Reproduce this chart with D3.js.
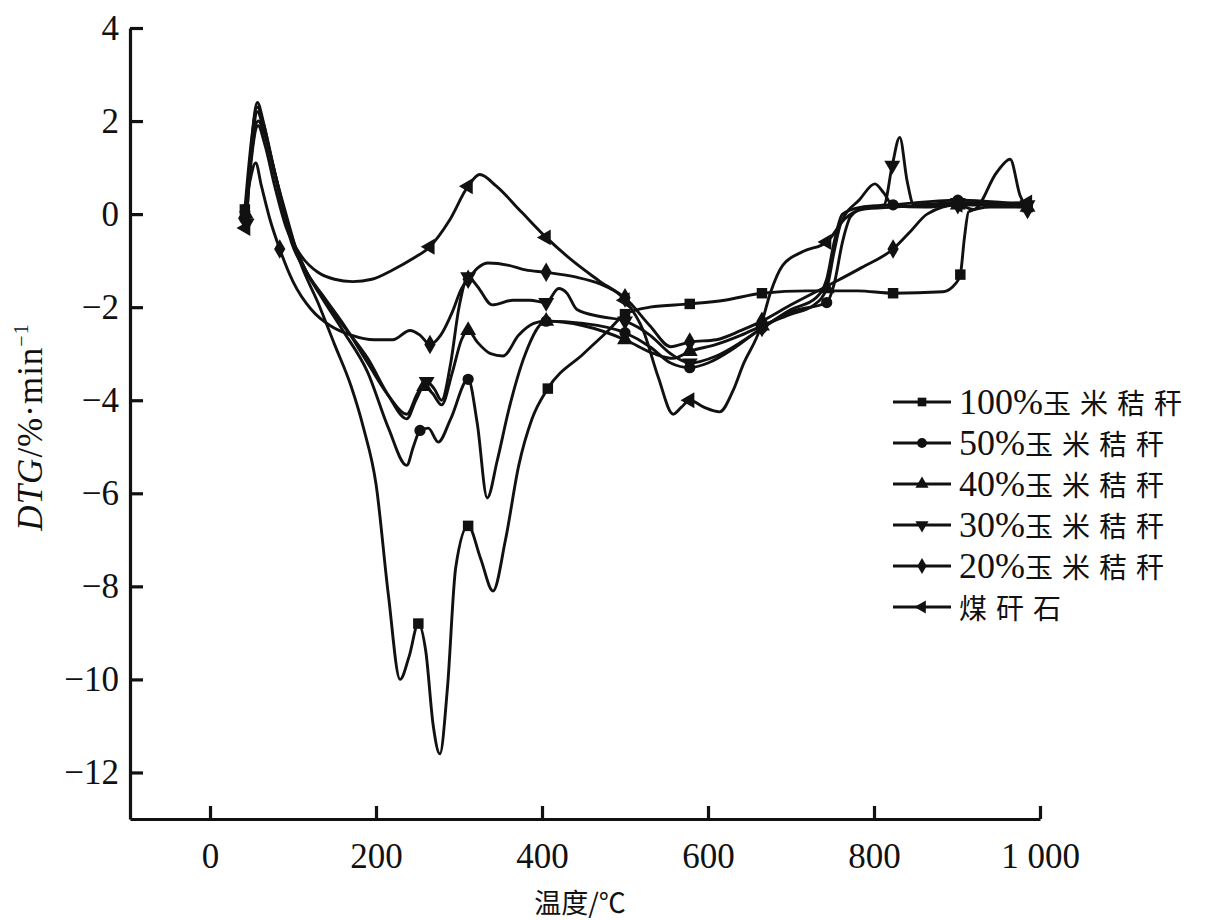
<!DOCTYPE html>
<html>
<head>
<meta charset="utf-8">
<script src="https://cdn.jsdelivr.net/npm/d3@7"></script>
<style>
  body { margin: 0; background: #fff; }
  svg { display: block; }
</style>
</head>
<body>
<div id="chart"></div>
<script>
// DTG curves, [temperature °C, DTG %/min]
const s100 = [[42,0.1],[50,1.6],[57,2.4],[64,2.0],[75,1.1],[90,0.1],[108,-1.0],[130,-1.9],[150,-2.8],[170,-3.7],[185,-4.6],[200,-5.8],[215,-8.2],[229,-10.0],[240,-9.5],[251,-8.8],[260,-9.4],[269,-11.0],[277,-11.6],[286,-10.2],[296,-7.6],[311,-6.7],[326,-7.4],[341,-8.1],[356,-7.0],[372,-5.4],[388,-4.4],[407,-3.75],[450,-3.0],[480,-2.5],[500,-2.15],[530,-2.0],[578,-1.93],[620,-1.85],[665,-1.7],[720,-1.65],[780,-1.65],[823,-1.7],[883,-1.67],[898,-1.5],[904,-1.3],[909,-0.5],[914,0.05],[940,0.15],[985,0.15]];
const s50 = [[42,-0.1],[50,1.4],[57,2.2],[65,1.8],[78,0.9],[95,-0.3],[115,-1.2],[135,-1.8],[160,-2.5],[190,-3.4],[215,-4.6],[237,-5.4],[245,-5.0],[253,-4.65],[263,-4.6],[275,-4.9],[290,-4.4],[311,-3.55],[322,-4.5],[334,-6.1],[346,-5.3],[360,-4.2],[380,-3.0],[405,-2.3],[450,-2.35],[500,-2.55],[530,-2.85],[555,-3.2],[578,-3.3],[600,-3.2],[630,-2.9],[665,-2.45],[700,-2.1],[743,-1.9],[752,-1.5],[762,-0.6],[772,-0.05],[790,0.15],[823,0.2],[901,0.3],[985,0.2]];
const s40 = [[43,0.0],[50,1.3],[58,2.0],[66,1.7],[80,0.7],[98,-0.6],[118,-1.3],[140,-1.9],[165,-2.5],[190,-3.1],[215,-3.9],[237,-4.4],[248,-4.0],[258,-3.7],[268,-3.85],[279,-4.1],[292,-3.4],[303,-2.7],[311,-2.5],[322,-2.75],[338,-3.0],[353,-3.05],[372,-2.6],[390,-2.35],[405,-2.3],[450,-2.4],[500,-2.7],[535,-3.0],[558,-3.1],[578,-2.95],[610,-2.8],[640,-2.6],[665,-2.4],[700,-2.15],[728,-1.95],[743,-1.6],[752,-0.8],[760,-0.2],[783,0.32],[801,0.65],[812,0.45],[823,0.18],[860,0.15],[901,0.2],[985,0.15]];
const s30 = [[44,-0.2],[50,1.5],[57,2.3],[65,1.9],[78,0.9],[96,-0.4],[115,-1.2],[138,-1.8],[162,-2.4],[190,-3.2],[215,-3.9],[237,-4.3],[250,-3.85],[261,-3.6],[270,-3.75],[279,-4.0],[290,-3.2],[300,-2.0],[311,-1.35],[322,-1.55],[340,-1.95],[365,-1.85],[385,-1.85],[405,-1.9],[420,-1.6],[430,-1.7],[442,-2.05],[470,-2.2],[500,-2.3],[530,-2.6],[555,-3.0],[578,-3.2],[610,-3.05],[640,-2.75],[665,-2.45],[700,-2.05],[730,-1.8],[743,-1.4],[752,-0.6],[762,0.0],[785,0.15],[812,0.2],[822,1.05],[831,1.65],[840,0.7],[848,0.2],[901,0.25],[985,0.2]];
const s20 = [[42,0.05],[48,0.7],[55,1.1],[62,0.6],[72,-0.1],[84,-0.75],[100,-1.45],[122,-2.05],[145,-2.4],[170,-2.6],[198,-2.7],[220,-2.7],[241,-2.5],[253,-2.6],[265,-2.8],[278,-2.6],[292,-2.1],[303,-1.6],[311,-1.4],[323,-1.15],[335,-1.05],[360,-1.1],[380,-1.2],[405,-1.25],[440,-1.35],[470,-1.5],[500,-1.8],[530,-2.4],[555,-2.85],[578,-2.75],[610,-2.7],[640,-2.5],[665,-2.3],[700,-1.95],[743,-1.55],[785,-1.15],[823,-0.75],[845,-0.35],[864,0.0],[901,0.2],[920,0.1],[948,0.9],[964,1.18],[976,0.4],[985,0.1]];
const sCoal = [[43,-0.3],[50,1.2],[58,1.9],[66,1.5],[78,0.6],[92,-0.3],[110,-0.9],[130,-1.25],[150,-1.4],[172,-1.45],[195,-1.4],[220,-1.2],[245,-0.95],[265,-0.7],[288,-0.15],[311,0.6],[325,0.85],[345,0.6],[375,0.05],[405,-0.5],[440,-1.05],[470,-1.45],[500,-1.85],[522,-2.5],[540,-3.5],[558,-4.3],[568,-4.15],[578,-4.0],[595,-4.15],[614,-4.25],[630,-3.8],[642,-3.25],[663,-2.45],[675,-1.7],[690,-1.1],[715,-0.8],[743,-0.6],[765,-0.1],[785,0.1],[823,0.15],[901,0.2],[985,0.25]];

// temperatures where each curve carries a marker
const mk100 = [42, 251, 311, 407, 500, 578, 665, 823, 904, 985];
const mk50 = [42, 253, 311, 405, 500, 578, 665, 743, 823, 901, 985];
const mk40 = [43, 258, 311, 405, 500, 578, 665, 743, 901, 985];
const mk30 = [44, 261, 311, 405, 500, 578, 665, 822, 901, 985];
const mk20 = [42, 84, 265, 311, 405, 500, 578, 665, 823, 901, 985];
const mkCoal = [43, 265, 311, 405, 500, 578, 743, 901, 985];

const legendNums = ["100%", "50%", "40%", "30%", "20%", ""];
const legendNames = ["玉米秸秆", "玉米秸秆", "玉米秸秆", "玉米秸秆", "玉米秸秆", "煤矸石"];

const xTicks = [0, 200, 400, 600, 800, 1000];
const yTicks = [-12, -10, -8, -6, -4, -2, 0, 2, 4];

const series = [
  { data: s100, marks: mk100, sym: d3.symbolSquare, rot: 0, size: 110 },
  { data: s50, marks: mk50, sym: d3.symbolCircle, rot: 0, size: 100 },
  { data: s40, marks: mk40, sym: d3.symbolTriangle, rot: 0, size: 110 },
  { data: s30, marks: mk30, sym: d3.symbolTriangle, rot: 180, size: 110 },
  { data: s20, marks: mk20, sym: d3.symbolDiamond, rot: 0, size: 110 },
  { data: sCoal, marks: mkCoal, sym: d3.symbolTriangle, rot: -90, size: 110 }
];

const svg = d3.select("#chart")
  .append("svg")
    .attr("width", 1210)
    .attr("height", 920);

const x = d3.scaleLinear().domain([-96.4, 1000]).range([130, 1040]);
const y = d3.scaleLinear().domain([-13, 4]).range([819, 28]);

const serif = "'Liberation Serif', 'Times New Roman', serif";
const cjk = "'Noto Sans CJK SC', sans-serif";

// axes, ticks pointing inside
const xAxis = d3.axisBottom(x)
  .tickValues(xTicks)
  .tickSize(-13)
  .tickSizeOuter(0)
  .tickPadding(24)
  .tickFormat(d => d === 1000 ? "1 000" : d);
svg.append("g")
  .attr("transform", "translate(0,819)")
  .call(xAxis)
  .call(g => g.selectAll("path, line").attr("stroke", "#111").attr("stroke-width", 3.2))
  .call(g => g.selectAll("text").attr("font-family", serif).attr("font-size", 35).attr("fill", "#111"));

const yAxis = d3.axisLeft(y)
  .tickValues(yTicks)
  .tickSize(-13)
  .tickSizeOuter(0)
  .tickPadding(11);
svg.append("g")
  .attr("transform", "translate(130,0)")
  .call(yAxis)
  .call(g => g.selectAll("path, line").attr("stroke", "#111").attr("stroke-width", 3.2))
  .call(g => g.selectAll("text").attr("font-family", serif).attr("font-size", 35).attr("fill", "#111"));

// axis titles
svg.append("text")
  .attr("x", 580)
  .attr("y", 913)
  .attr("text-anchor", "middle")
  .attr("font-family", cjk)
  .attr("font-size", 27)
  .attr("fill", "#111")
  .text("温度/℃");

const yl = svg.append("text")
  .attr("transform", "translate(42,427) rotate(-90)")
  .attr("text-anchor", "middle")
  .attr("font-family", serif)
  .attr("font-size", 35)
  .attr("letter-spacing", 1)
  .attr("fill", "#111");
yl.append("tspan").attr("font-style", "italic").text("DTG");
yl.append("tspan").text("/%·min");
yl.append("tspan").attr("font-size", 20).attr("dy", -14).text("−1");

// curves
const line = d3.line()
  .x(d => x(d[0]))
  .y(d => y(d[1]))
  .curve(d3.curveMonotoneX);

series.forEach(s => {
  svg.append("path")
    .datum(s.data)
    .attr("fill", "none")
    .attr("stroke", "#111")
    .attr("stroke-width", 2.9)
    .attr("stroke-linejoin", "round")
    .attr("d", line);

  const pts = s.data.filter(d => s.marks.includes(d[0]));
  svg.append("g")
    .selectAll("path")
    .data(pts)
    .enter()
    .append("path")
      .attr("d", d3.symbol().type(s.sym).size(s.size))
      .attr("transform", d => `translate(${x(d[0])},${y(d[1])}) rotate(${s.rot})`)
      .attr("fill", "#111");
});

// legend
const legend = svg.append("g").attr("transform", "translate(893,402)");
series.forEach((s, i) => {
  const row = legend.append("g").attr("transform", `translate(0,${i * 41})`);
  row.append("line")
    .attr("x1", 0).attr("x2", 58)
    .attr("stroke", "#111").attr("stroke-width", 3);
  row.append("path")
    .attr("d", d3.symbol().type(s.sym).size(75))
    .attr("transform", `translate(29,0) rotate(${s.rot})`)
    .attr("fill", "#111");
  const t = row.append("text")
    .attr("x", 66)
    .attr("y", 12)
    .attr("fill", "#111");
  t.append("tspan")
    .attr("font-family", serif)
    .attr("font-size", 36)
    .text(legendNums[i]);
  t.append("tspan")
    .attr("font-family", cjk)
    .attr("font-size", 28)
    .attr("letter-spacing", 9)
    .text(legendNames[i]);
});
</script>
</body>
</html>
